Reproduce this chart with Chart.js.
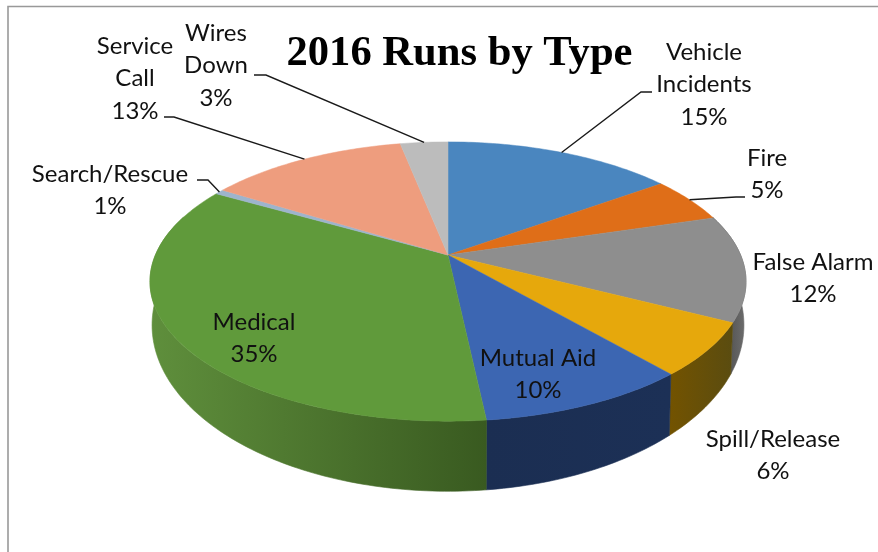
<!DOCTYPE html>
<html><head><meta charset="utf-8">
<style>html,body{margin:0;padding:0;background:#fff}#wrap{position:absolute;left:0;top:0;width:878px;height:552px}canvas{filter:blur(0.45px)}</style>
<script src="https://cdn.jsdelivr.net/npm/chart.js@4/dist/chart.umd.min.js"></script>
</head><body><div id="wrap"><canvas id="c" width="878" height="552"></canvas></div>
<script>
const categories=["Vehicle Incidents","Fire","False Alarm","Spill/Release","Mutual Aid","Medical","Search/Rescue","Service Call","Wires Down"];
const values=[15,5.3,12.3,6.1,9.6,35,0.6,13,3.1];
const percentLabels=["15%","5%","12%","6%","10%","35%","1%","13%","3%"];
const labelLines=[["Vehicle","Incidents"],["Fire"],["False Alarm"],["Spill/Release"],["Mutual Aid"],["Medical"],["Search/Rescue"],["Service","Call"],["Wires","Down"]];
const topColors=["#4a86bf","#df6e18","#8e8e8e","#e6a80c","#3c66b2","#609a3b","#9db4cc","#ee9d7e","#bcbcbc"];
const wallLeft=["#2c5378","#8a4410","#3a3a3a","#735300","#1b2e52","#5f8f3c","#5f7486","#95604a","#757575"];
const wallRight=["#2c5378","#8a4410","#6e6e6e","#5a4c10","#1c3056","#395a20","#5f7486","#95604a","#757575"];
const titleText="2016 Runs by Type";

// label placement: centre x, first line centre y, optional leader elbow [x, endX, y]
const labelPlace=[
 {x:704,y:52,elbow:[641,652,92]},
 {x:767,y:158,elbow:[736,745,197]},
 {x:813,y:262},
 {x:773,y:439},
 {x:538,y:358},
 {x:254,y:322},
 {x:110,y:174,elbow:[208,197,180]},
 {x:135,y:46,elbow:[174,164,117]},
 {x:216,y:33,elbow:[266,254,75]}
];
const LINE_H=32.7;
const PERSP=0.19, SQUASH=0.46;
const DEPTH={dy:38.5,sx:0.993,sy:1.19};
const WALL_OVERHANG=0.3;

function project(el,phi,floor){
  const u=Math.cos(phi),v=Math.sin(phi),d=1-PERSP*v,R=el.outerRadius,b=R*SQUASH;
  if(!floor) return {x:el.x+R*u/d,y:el.y+b*v/d};
  return {x:el.x+DEPTH.sx*R*u/d,y:el.y+DEPTH.dy+DEPTH.sy*b*v/d};
}
function wedgePath(ctx,el){
  ctx.beginPath();ctx.moveTo(el.x,el.y);
  const n=Math.max(4,Math.ceil((el.endAngle-el.startAngle)*60));
  for(let i=0;i<=n;i++){const p=project(el,el.startAngle+(el.endAngle-el.startAngle)*i/n);ctx.lineTo(p.x,p.y);}
  ctx.closePath();
}
const pie3d={
 id:'pie3d',
 afterLayout(chart){
   const t=chart.titleBlock; t.left=41; t.right=878;
 },
 beforeDatasetsDraw(chart){
   const ctx=chart.ctx,arcs=chart.getDatasetMeta(0).data;
   ctx.save();
   arcs.forEach((el,i)=>{
     const a0=Math.max(el.startAngle,-WALL_OVERHANG),a1=Math.min(el.endAngle,Math.PI+WALL_OVERHANG);
     if(a1<=a0)return;
     const n=Math.ceil((a1-a0)*60),top=[],bot=[];
     for(let k=0;k<=n;k++){const a=a0+(a1-a0)*k/n;top.push(project(el,a));bot.push(project(el,a,true));}
     ctx.beginPath();ctx.moveTo(top[0].x,top[0].y);
     top.forEach(p=>ctx.lineTo(p.x,p.y));
     bot.reverse().forEach(p=>ctx.lineTo(p.x,p.y));
     ctx.closePath();
     const xs=top.concat(bot).map(p=>p.x);
     const g=ctx.createLinearGradient(Math.min(...xs),0,Math.max(...xs),0);
     g.addColorStop(0,wallLeft[i]);g.addColorStop(1,wallRight[i]);
     ctx.fillStyle=g;ctx.fill();ctx.strokeStyle=g;ctx.lineWidth=0.6;ctx.stroke();
   });
   arcs.forEach((el,i)=>{
     wedgePath(ctx,el);ctx.fillStyle=topColors[i];ctx.fill();ctx.strokeStyle=topColors[i];ctx.lineWidth=0.5;ctx.stroke();
   });
   ctx.fillStyle='#111';ctx.textAlign='center';ctx.textBaseline='middle';
   ctx.font='24px Lato';
   arcs.forEach((el,i)=>{
     const pl=labelPlace[i];
     labelLines[i].concat([percentLabels[i]]).forEach((t,k)=>ctx.fillText(t,pl.x,pl.y+k*LINE_H));
     if(pl.elbow){
       const p=project(el,(el.startAngle+el.endAngle)/2);
       ctx.strokeStyle='#1a1a1a';ctx.lineWidth=1.4;ctx.beginPath();ctx.moveTo(p.x,p.y);
       ctx.lineTo(pl.elbow[0],pl.elbow[2]);ctx.lineTo(pl.elbow[1],pl.elbow[2]);ctx.stroke();
     }
   });
   ctx.restore();
   return false;
 },
 beforeDraw(chart){
   const ctx=chart.ctx;ctx.save();ctx.fillStyle='#fff';ctx.fillRect(0,0,878,552);
   ctx.strokeStyle='#999';ctx.lineWidth=1.6;ctx.beginPath();ctx.moveTo(8,560);ctx.lineTo(8,6.5);ctx.lineTo(880,6.5);ctx.stroke();ctx.restore();
 }
};
new Chart(document.getElementById('c'),{
 type:'pie',
 data:{labels:categories,datasets:[{data:values,backgroundColor:topColors,borderWidth:0}]},
 options:{responsive:false,animation:false,radius:292.6,
  layout:{padding:{left:18,right:0,top:0,bottom:121.5}},
  plugins:{legend:{display:false},tooltip:{enabled:false},
   title:{display:true,text:titleText,color:'#000',font:{family:'Liberation Serif',size:42.6,weight:'bold',lineHeight:1.2},padding:{top:28.4,bottom:0}}}},
 plugins:[pie3d]
});
</script></body></html>
